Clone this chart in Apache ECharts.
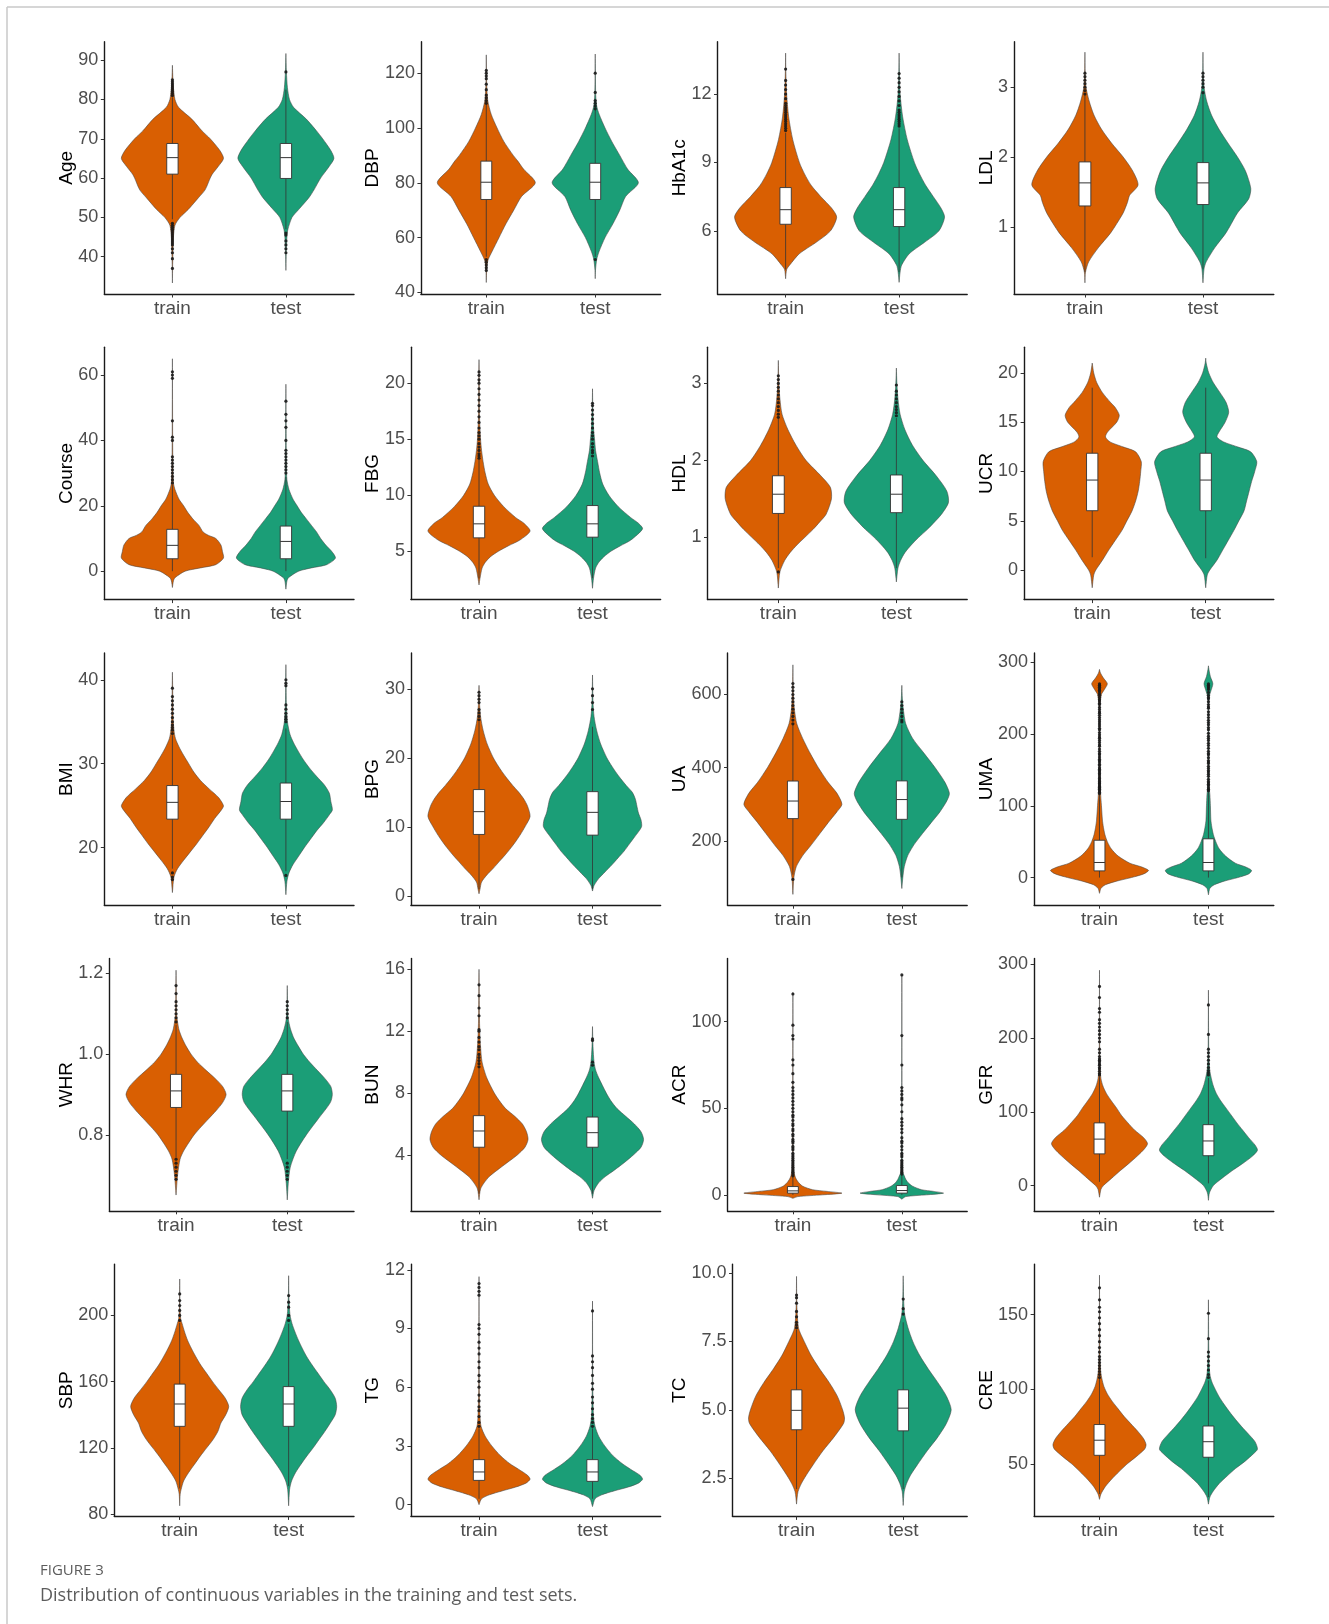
<!DOCTYPE html>
<html>
<head>
<meta charset="utf-8">
<script src="https://cdn.jsdelivr.net/npm/echarts@6/dist/echarts.min.js"></script>
<style>
  html, body { margin: 0; padding: 0; background: #ffffff; }
  #chart { width: 1329px; height: 1624px; }
</style>
</head>
<body>
<div id="chart"></div>
<script>
// ---------------------------------------------------------------------------
// Data: one block per variable.
//   *Ticks   : y-axis tick values
//   *Limits  : y-axis extent
//   *Boxes   : [lower whisker, Q1, median, Q3, upper whisker] for train, test
//   *Train / *Test : violin outline as [value, relative density]
//   *TrainOut / *TestOut : outlying observations
// ---------------------------------------------------------------------------
const groups = ['train', 'test'];

// Age
const ageTicks = [40, 50, 60, 70, 80, 90];
const ageLimits = [30.5, 94.7];
const ageBoxes = [[49.5, 61, 65.2, 68.8, 80.5], [47, 59.9, 65.2, 68.8, 82.5]];
const ageTrain = [[33.3,0],[38,0.005],[42,0.012],[45,0.02],[48,0.05],[50,0.15],[52,0.31],[55,0.51],[57,0.64],[60,0.74],[61,0.78],[63,0.9],[65,1.0],[67,0.93],[70,0.74],[72,0.58],[75,0.38],[78,0.12],[80,0.05],[83,0.02],[85,0.01],[88.7,0]];
const ageTest = [[36.5,0],[40,0.005],[42,0.01],[45,0.02],[47,0.04],[50,0.12],[52,0.25],[55,0.45],[57,0.55],[60,0.68],[63,0.85],[65,0.94],[67,0.88],[70,0.72],[72,0.6],[75,0.4],[78,0.15],[80,0.07],[83,0.03],[87,0.01],[91.7,0]];
const ageTrainOut = [37, 39.5, 41, 42, 43, 43.5, 44, 44.5, 45, 45.5, 46, 46.5, 47, 47.5, 48, 48.5, 81, 81.5, 82, 82.5, 83, 83.5, 84, 84.5, 85];
const ageTestOut = [41, 42, 43, 44, 45.5, 46, 87];

// DBP
const dbpTicks = [40, 60, 80, 100, 120];
const dbpLimits = [39.4, 131.5];
const dbpBoxes = [[53, 73.9, 80.2, 87.9, 108.5], [53, 73.9, 80.2, 87.1, 106.5]];
const dbpTrain = [[43.6,0],[47,0.005],[50,0.015],[52,0.04],[55,0.12],[60,0.26],[65,0.4],[70,0.56],[75,0.72],[80,1.0],[85,0.76],[88,0.64],[90,0.55],[95,0.36],[100,0.22],[105,0.1],[110,0.03],[115,0.01],[120,0.004],[126.7,0]];
const dbpTest = [[45,0],[48,0.005],[52,0.03],[55,0.08],[60,0.2],[65,0.36],[70,0.5],[75,0.62],[80,0.88],[85,0.66],[90,0.5],[95,0.34],[100,0.2],[105,0.08],[108,0.03],[112,0.01],[120,0.003],[127,0]];
const dbpTrainOut = [48, 49, 50, 51, 52, 109, 110, 111, 112, 114, 116, 118, 119, 120, 121];
const dbpTestOut = [52, 107, 108, 109, 110, 113, 120];

// HbA1c
const hba1cTicks = [6, 9, 12];
const hba1cLimits = [3.23, 14.3];
const hba1cBoxes = [[4.3, 6.29, 6.93, 7.9, 10.3], [4.2, 6.19, 6.93, 7.9, 10.5]];
const hba1cTrain = [[3.9,0],[4.3,0.02],[4.5,0.08],[5.0,0.27],[5.5,0.6],[6.0,0.88],[6.6,1.0],[7.0,0.9],[7.5,0.69],[8.0,0.5],[8.5,0.37],[9.0,0.27],[10,0.14],[11,0.06],[12,0.02],[13,0.005],[13.8,0]];
const hba1cTest = [[3.74,0],[4.2,0.02],[4.5,0.05],[5.0,0.2],[5.5,0.5],[6.0,0.78],[6.6,0.89],[7.0,0.82],[7.5,0.67],[8.0,0.52],[8.5,0.4],[9.0,0.3],[10,0.16],[11,0.07],[12,0.02],[13,0.005],[13.8,0]];
const hba1cTrainOut = [10.4, 10.5, 10.6, 10.7, 10.8, 10.9, 11, 11.1, 11.2, 11.3, 11.4, 11.5, 11.6, 11.8, 12, 12.2, 12.4, 12.6, 13.1];
const hba1cTestOut = [10.6, 10.7, 10.8, 10.9, 11, 11.1, 11.2, 11.3, 11.5, 11.7, 11.9, 12.1, 12.3, 12.5, 12.7, 12.9];

// LDL
const ldlTicks = [1, 2, 3];
const ldlLimits = [0.04, 3.65];
const ldlBoxes = [[0.35, 1.3, 1.63, 1.93, 2.88], [0.4, 1.32, 1.63, 1.92, 2.9]];
const ldlTrain = [[0.2,0],[0.35,0.01],[0.5,0.07],[0.7,0.25],[0.9,0.47],[1.0,0.56],[1.2,0.72],[1.35,0.8],[1.45,0.84],[1.6,1.0],[1.8,0.9],[2.0,0.72],[2.2,0.5],[2.4,0.31],[2.6,0.17],[2.8,0.08],[3.0,0.02],[3.2,0.005],[3.5,0]];
const ldlTest = [[0.2,0],[0.4,0.02],[0.5,0.06],[0.7,0.22],[0.9,0.42],[1.0,0.5],[1.2,0.65],[1.4,0.86],[1.55,0.9],[1.8,0.8],[2.0,0.65],[2.2,0.47],[2.4,0.3],[2.6,0.16],[2.8,0.07],[3.0,0.02],[3.2,0.005],[3.5,0]];
const ldlTrainOut = [2.9, 2.95, 3.0, 3.05, 3.1, 3.15, 3.2];
const ldlTestOut = [2.92, 3.0, 3.05, 3.1, 3.15, 3.2];

// Course
const courseTicks = [0, 20, 40, 60];
const courseLimits = [-8.7, 68.5];
const courseBoxes = [[0, 3.8, 7.9, 12.8, 26.5], [0, 3.8, 9.1, 13.8, 28.8]];
const courseTrain = [[-5,0],[-3,0.02],[-2,0.05],[0,0.25],[1,0.55],[2,0.85],[4,1.0],[6,0.98],[8,0.95],[10,0.85],[11,0.7],[12,0.6],[14,0.52],[16,0.4],[18,0.3],[20,0.22],[22,0.13],[25,0.05],[27,0.02],[30,0.01],[40,0.005],[65,0]];
const courseTest = [[-5.5,0],[-3,0.02],[-2,0.05],[0,0.25],[1,0.5],[2,0.8],[4,0.97],[6,0.9],[8,0.78],[10,0.68],[12,0.6],[14,0.5],[16,0.4],[18,0.3],[20,0.22],[22,0.14],[25,0.06],[28,0.02],[32,0.01],[45,0.004],[57.2,0]];
const courseTrainOut = [27, 28, 29, 30, 31, 32, 33, 34, 35, 40, 41, 46, 59, 60, 61];
const courseTestOut = [30, 31, 32, 33, 34, 35, 36, 37, 40, 44, 46, 48, 52];

// FBG
const fbgTicks = [5, 10, 15, 20];
const fbgLimits = [0.69, 23.2];
const fbgBoxes = [[2.6, 6.2, 7.45, 9.02, 13.2], [2.6, 6.26, 7.45, 9.08, 13.3]];
const fbgTrain = [[2.0,0],[2.6,0.02],[3.5,0.06],[4.0,0.12],[4.5,0.22],[5.0,0.38],[5.5,0.58],[6.0,0.8],[6.8,1.0],[7.5,0.88],[8.0,0.72],[9.0,0.48],[10,0.3],[11,0.18],[12,0.12],[13,0.08],[14,0.05],[15,0.03],[17,0.01],[20,0.005],[22.1,0]];
const fbgTest = [[1.7,0],[2.6,0.02],[3.5,0.06],[4.0,0.12],[4.5,0.22],[5.0,0.36],[5.5,0.55],[6.0,0.75],[7.0,0.98],[7.5,0.9],[8.0,0.75],[9.0,0.5],[10,0.32],[11,0.2],[12,0.14],[13,0.1],[14,0.06],[15,0.04],[16,0.02],[18,0.005],[19.5,0]];
const fbgTrainOut = [13.3, 13.5, 13.7, 14, 14.3, 14.6, 15, 15.3, 15.6, 16, 16.5, 17, 17.5, 18, 18.5, 19, 19.5, 20, 20.3, 20.7, 21];
const fbgTestOut = [13.5, 13.8, 14, 14.3, 14.6, 15, 15.3, 15.6, 16, 16.4, 16.8, 17.2, 17.6, 18, 18.2];

// HDL
const hdlTicks = [1, 2, 3];
const hdlLimits = [0.19, 3.47];
const hdlBoxes = [[0.6, 1.31, 1.56, 1.80, 2.54], [0.6, 1.32, 1.56, 1.81, 2.55]];
const hdlTrain = [[0.34,0],[0.55,0.03],[0.7,0.12],[0.8,0.22],[0.9,0.35],[1.0,0.5],[1.1,0.65],[1.2,0.78],[1.3,0.9],[1.5,1.0],[1.65,0.98],[1.8,0.8],[2.0,0.52],[2.2,0.33],[2.4,0.18],[2.6,0.07],[2.8,0.03],[3.0,0.01],[3.3,0]];
const hdlTest = [[0.42,0],[0.6,0.03],[0.7,0.08],[0.8,0.16],[0.9,0.28],[1.0,0.42],[1.1,0.58],[1.2,0.72],[1.3,0.85],[1.45,0.98],[1.6,0.95],[1.8,0.75],[2.0,0.5],[2.2,0.3],[2.4,0.16],[2.6,0.07],[2.8,0.03],[3.0,0.01],[3.2,0]];
const hdlTrainOut = [0.55, 2.56, 2.6, 2.65, 2.7, 2.75, 2.8, 2.85, 2.9, 2.95, 3.0, 3.05, 3.1];
const hdlTestOut = [2.58, 2.62, 2.66, 2.7, 2.75, 2.8, 2.85, 2.9, 2.98];

// UCR
const ucrTicks = [0, 5, 10, 15, 20];
const ucrLimits = [-3.0, 22.6];
const ucrBoxes = [[1.3, 6.02, 9.13, 11.85, 18.5], [1.2, 6.02, 9.13, 11.85, 18.5]];
const ucrTrain = [[-1.8,0],[-0.5,0.03],[0,0.07],[1,0.2],[2,0.32],[3,0.45],[4,0.58],[5,0.68],[6,0.78],[7,0.85],[8,0.9],[9,0.93],[10,0.95],[11,0.96],[12,0.85],[12.5,0.6],[13,0.35],[13.5,0.26],[14,0.3],[15,0.48],[15.7,0.53],[16.5,0.45],[17,0.36],[18,0.2],[19,0.09],[20,0.03],[21,0]];
const ucrTest = [[-1.8,0],[-0.5,0.03],[0,0.08],[1,0.22],[2,0.33],[3,0.44],[4,0.55],[5,0.65],[6,0.75],[7,0.8],[8,0.85],[9,0.9],[10,0.96],[11,1.0],[12,0.88],[12.5,0.62],[13,0.35],[13.5,0.22],[14,0.26],[15,0.38],[16,0.45],[17,0.4],[18,0.28],[19,0.15],[20,0.06],[21,0.01],[21.5,0]];
const ucrTrainOut = [];
const ucrTestOut = [];

// BMI
const bmiTicks = [20, 30, 40];
const bmiLimits = [13.15, 43.2];
const bmiBoxes = [[17.5, 23.4, 25.4, 27.4, 33.4], [17.2, 23.4, 25.5, 27.7, 34.2]];
const bmiTrain = [[14.65,0],[16.5,0.03],[17.5,0.1],[18.5,0.22],[19.5,0.35],[20.5,0.48],[21.5,0.6],[22.5,0.72],[23.5,0.83],[24.5,0.96],[25,1.0],[26,0.9],[27,0.72],[28,0.55],[29,0.42],[30,0.32],[31,0.22],[32,0.13],[33,0.06],[34,0.03],[36,0.01],[39,0.005],[40.9,0]];
const bmiTest = [[14.4,0],[16,0.02],[17,0.06],[18,0.14],[19,0.25],[20,0.36],[21,0.48],[22,0.6],[23,0.74],[24,0.86],[24.5,0.91],[25.5,0.88],[26.5,0.85],[27.5,0.75],[28.5,0.6],[29.5,0.46],[30.5,0.34],[31.5,0.24],[32.5,0.15],[33.5,0.08],[35,0.03],[37,0.01],[40,0.003],[41.8,0]];
const bmiTrainOut = [16.2, 16.5, 17, 33.6, 34, 34.3, 34.6, 35, 35.5, 36, 36.5, 37, 37.5, 38, 39];
const bmiTestOut = [16.7, 35, 35.3, 35.6, 36, 36.5, 37, 39.3, 39.6, 40];

// BPG
const bpgTicks = [0, 10, 20, 30];
const bpgLimits = [-1.35, 35.2];
const bpgBoxes = [[1, 8.9, 12.2, 15.4, 25.2], [1, 8.8, 12.1, 15.1, 24.5]];
const bpgTrain = [[0.3,0],[1,0.02],[2,0.05],[3,0.15],[4,0.28],[5,0.4],[6,0.52],[7,0.63],[8,0.73],[9,0.82],[10,0.9],[11.5,1.0],[13,0.95],[14,0.88],[15,0.78],[16,0.66],[17,0.55],[18,0.45],[19,0.36],[20,0.28],[22,0.16],[24,0.08],[26,0.03],[28,0.01],[30.5,0]];
const bpgTest = [[0.7,0],[1.5,0.03],[2.5,0.12],[3.5,0.25],[4.5,0.38],[5.5,0.5],[6.5,0.62],[7.5,0.72],[8.5,0.82],[10,0.96],[11,0.95],[12,0.9],[13,0.87],[14,0.84],[15,0.78],[16,0.66],[17,0.55],[18,0.45],[19,0.36],[20,0.28],[22,0.16],[24,0.08],[26,0.03],[28,0.01],[32,0]];
const bpgTrainOut = [25.5, 26, 26.5, 27, 28, 28.5, 29, 29.5];
const bpgTestOut = [27, 28, 29, 30];

// UA
const uaTicks = [200, 400, 600];
const uaLimits = [24.5, 713.6];
const uaBoxes = [[108, 261, 309, 363.6, 517], [100, 259, 313, 364, 518]];
const uaTrain = [[54,0],[100,0.02],[130,0.07],[160,0.2],[190,0.38],[220,0.55],[250,0.72],[280,0.9],[300,1.0],[330,0.9],[360,0.72],[400,0.52],[440,0.35],[480,0.2],[520,0.08],[560,0.03],[600,0.01],[640,0.003],[681,0]];
const uaTest = [[70,0],[100,0.02],[130,0.05],[160,0.12],[190,0.25],[220,0.42],[250,0.6],[280,0.78],[310,0.92],[330,0.97],[360,0.88],[400,0.68],[440,0.45],[480,0.22],[520,0.08],[560,0.03],[590,0.01],[625,0]];
const uaTrainOut = [95, 520, 530, 540, 550, 560, 570, 580, 590, 600, 610, 620, 630];
const uaTestOut = [525, 530, 540, 550, 560, 570, 580];

// UMA
const umaTicks = [0, 100, 200, 300];
const umaLimits = [-38.5, 313];
const umaBoxes = [[0, 9.3, 21, 52, 116], [0, 9.3, 21, 54, 120]];
const umaTrain = [[-22,0],[-15,0.03],[-10,0.12],[-5,0.35],[0,0.65],[5,0.9],[10,1.0],[15,0.85],[20,0.62],[30,0.38],[40,0.24],[50,0.16],[60,0.11],[70,0.08],[80,0.06],[100,0.04],[120,0.02],[150,0.01],[200,0.006],[240,0.01],[255,0.04],[262,0.1],[270,0.16],[278,0.08],[285,0.02],[290,0]];
const umaTest = [[-24,0],[-15,0.03],[-10,0.12],[-5,0.32],[0,0.6],[5,0.82],[10,0.88],[15,0.75],[20,0.55],[30,0.35],[40,0.22],[50,0.15],[60,0.1],[70,0.07],[80,0.05],[100,0.04],[115,0.03],[130,0.01],[200,0.005],[250,0.01],[260,0.05],[270,0.09],[280,0.04],[290,0.01],[295,0]];
const umaTrainOut = [117, 119, 121, 123, 124, 126, 127, 129, 131, 132, 134, 136, 138, 140, 143, 145, 147, 149, 151, 153, 156, 158, 161, 163, 165, 168, 171, 173, 176, 179, 183, 185, 188, 191, 194, 196, 199, 202, 206, 208, 211, 214, 217, 220, 223, 226, 229, 231, 234, 237, 241, 243, 246, 248, 251, 254, 256, 259, 261, 263, 265, 267, 268, 270];
const umaTestOut = [121, 123, 125, 128, 130, 132, 134, 137, 141, 144, 147, 149, 152, 155, 159, 161, 163, 167, 171, 173, 176, 180, 184, 187, 191, 194, 197, 201, 206, 209, 213, 216, 219, 223, 227, 231, 236, 238, 241, 245, 249, 251, 254, 258, 262, 264, 266, 268, 270];

// WHR
const whrTicks = [0.8, 1.0, 1.2];
const whrLimits = [0.612, 1.237];
const whrBoxes = [[0.745, 0.868, 0.909, 0.95, 1.073], [0.74, 0.859, 0.909, 0.95, 1.08]];
const whrTrain = [[0.651,0],[0.7,0.03],[0.74,0.08],[0.76,0.15],[0.78,0.25],[0.8,0.36],[0.82,0.5],[0.84,0.65],[0.86,0.8],[0.88,0.93],[0.9,1.0],[0.92,0.93],[0.94,0.78],[0.96,0.6],[0.98,0.43],[1.0,0.3],[1.02,0.2],[1.04,0.12],[1.06,0.06],[1.08,0.03],[1.1,0.01],[1.15,0.005],[1.208,0]];
const whrTest = [[0.639,0],[0.68,0.02],[0.72,0.06],[0.76,0.18],[0.8,0.38],[0.84,0.62],[0.88,0.86],[0.9,0.9],[0.92,0.87],[0.94,0.75],[0.96,0.6],[0.98,0.45],[1.0,0.32],[1.02,0.22],[1.04,0.13],[1.06,0.07],[1.08,0.03],[1.1,0.01],[1.17,0]];
const whrTrainOut = [0.69, 0.7, 0.71, 0.72, 0.73, 0.74, 1.08, 1.09, 1.1, 1.11, 1.12, 1.13, 1.15, 1.17];
const whrTestOut = [0.69, 0.7, 0.71, 0.72, 0.73, 1.09, 1.1, 1.11, 1.12, 1.13];

// BUN
const bunTicks = [4, 8, 12, 16];
const bunLimits = [0.39, 16.7];
const bunBoxes = [[1.5, 4.5, 5.55, 6.54, 9.6], [1.5, 4.5, 5.44, 6.45, 9.4]];
const bunTrain = [[1.1,0],[1.8,0.03],[2.2,0.1],[2.6,0.2],[3.0,0.35],[3.5,0.55],[4.0,0.75],[4.5,0.9],[5.0,0.96],[5.5,0.93],[6.0,0.85],[6.5,0.7],[7.0,0.52],[7.5,0.4],[8.0,0.3],[9.0,0.15],[10,0.06],[11,0.03],[12,0.015],[13,0.008],[15,0.003],[16,0]];
const bunTest = [[1.2,0],[1.7,0.03],[2.2,0.12],[2.6,0.25],[3.0,0.42],[3.5,0.62],[4.0,0.8],[4.5,0.95],[5.0,1.0],[5.5,0.95],[6.0,0.82],[6.5,0.65],[7.0,0.48],[7.5,0.36],[8.0,0.27],[9.0,0.12],[9.5,0.06],[10,0.03],[11,0.01],[12.3,0]];
const bunTrainOut = [9.7, 9.9, 10.1, 10.3, 10.5, 10.8, 11, 11.3, 11.6, 12, 12.1, 13, 13.5, 14.3, 15];
const bunTestOut = [9.8, 10, 11.4, 11.5];

// ACR
const acrTicks = [0, 50, 100];
const acrLimits = [-9.2, 136.5];
const acrBoxes = [[0, 1.0, 2.3, 4.8, 10.5], [0, 1.0, 2.5, 5.4, 11.5]];
const acrTrain = [[-2,0],[-1,0.1],[0,0.6],[1,1.0],[2,0.7],[3,0.4],[5,0.2],[7,0.12],[9,0.07],[11,0.04],[14,0.02],[18,0.01],[25,0.005],[60,0.002],[117,0]];
const acrTest = [[-2.5,0],[-1,0.08],[0,0.5],[1,0.85],[2,0.65],[3,0.4],[5,0.22],[7,0.13],[9,0.08],[11,0.05],[13,0.02],[18,0.01],[30,0.004],[127,0]];
const acrTrainOut = [11, 12, 13, 14, 15, 16, 17, 18, 19, 20, 21, 22, 23, 24, 26, 27, 28, 30, 31, 32, 34, 35, 37, 38, 40, 41, 43, 45, 46, 48, 50, 52, 54, 56, 58, 60, 62, 65, 70, 75, 78, 90, 92, 98, 116];
const acrTestOut = [12, 13, 14, 15, 16, 17, 18, 19, 20, 22, 23, 24, 26, 28, 30, 31, 33, 36, 38, 40, 42, 44, 48, 52, 55, 56, 58, 60, 62, 75, 92, 127];

// GFR
const gfrTicks = [0, 100, 200, 300];
const gfrLimits = [-34.2, 307.9];
const gfrBoxes = [[5, 43, 63, 85, 148], [3, 40.5, 60.5, 82.6, 146]];
const gfrTrain = [[-15.8,0],[-5,0.03],[0,0.08],[10,0.25],[20,0.42],[30,0.6],[40,0.77],[50,0.92],[57,0.98],[65,0.9],[75,0.72],[85,0.58],[95,0.45],[105,0.35],[115,0.24],[125,0.14],[135,0.07],[145,0.03],[160,0.01],[180,0.005],[240,0.002],[292,0]];
const gfrTest = [[-20,0],[-10,0.02],[0,0.1],[10,0.28],[20,0.48],[30,0.7],[40,0.9],[48,1.0],[55,0.95],[65,0.82],[75,0.7],[85,0.58],[95,0.47],[105,0.36],[115,0.25],[125,0.16],[135,0.1],[145,0.06],[155,0.03],[170,0.01],[200,0.004],[265,0]];
const gfrTrainOut = [150, 152, 155, 158, 160, 163, 165, 168, 170, 172, 175, 180, 185, 195, 200, 205, 210, 215, 220, 225, 235, 240, 255, 270];
const gfrTestOut = [150, 153, 156, 160, 165, 170, 175, 180, 185, 205, 245];

// SBP
const sbpTicks = [80, 120, 160, 200];
const sbpLimits = [78.6, 231];
const sbpBoxes = [[95.5, 133, 146.5, 158.5, 195.5], [97, 133, 146.5, 157, 195]];
const sbpTrain = [[85,0],[92,0.01],[95,0.03],[100,0.08],[105,0.18],[110,0.3],[115,0.42],[120,0.55],[125,0.68],[130,0.78],[135,0.84],[140,0.94],[145,1.0],[150,0.93],[155,0.8],[160,0.67],[165,0.55],[170,0.43],[175,0.33],[180,0.24],[185,0.16],[190,0.1],[195,0.05],[198,0.02],[205,0.005],[222,0]];
const sbpTest = [[85,0],[95,0.02],[100,0.06],[105,0.14],[110,0.25],[115,0.37],[120,0.5],[125,0.62],[130,0.74],[135,0.85],[140,0.95],[145,0.98],[150,0.95],[155,0.85],[160,0.72],[165,0.6],[170,0.48],[175,0.37],[180,0.28],[185,0.2],[190,0.13],[195,0.07],[200,0.03],[205,0.015],[212,0.005],[224,0]];
const sbpTrainOut = [197, 200, 203, 206, 209, 213];
const sbpTestOut = [197, 200, 205, 208, 212];

// TG
const tgTicks = [0, 3, 6, 9, 12];
const tgLimits = [-0.6, 12.29];
const tgBoxes = [[0.3, 1.24, 1.67, 2.3, 3.9], [0.3, 1.19, 1.67, 2.3, 3.9]];
const tgTrain = [[0,0],[0.3,0.05],[0.5,0.2],[0.7,0.45],[0.9,0.72],[1.1,0.92],[1.3,1.0],[1.5,0.95],[1.8,0.78],[2.1,0.6],[2.5,0.42],[3.0,0.25],[3.5,0.12],[4.0,0.04],[4.5,0.02],[6,0.005],[11.65,0]];
const tgTest = [[-0.1,0],[0.3,0.05],[0.5,0.18],[0.7,0.42],[0.9,0.7],[1.1,0.9],[1.3,0.98],[1.5,0.93],[1.8,0.75],[2.1,0.58],[2.5,0.4],[3.0,0.24],[3.5,0.12],[4.0,0.05],[4.5,0.02],[6,0.005],[10.4,0]];
const tgTrainOut = [4, 4.2, 4.5, 4.8, 5, 5.3, 5.6, 6, 6.3, 6.6, 7, 7.3, 7.7, 8, 8.3, 8.7, 9, 9.2, 10.7, 10.9, 11.1, 11.3];
const tgTestOut = [4, 4.2, 4.4, 4.6, 4.9, 5.2, 5.5, 5.9, 6.2, 6.6, 7, 7.3, 7.6, 9.9];

// TC
const tcTicks = [2.5, 5.0, 7.5, 10.0];
const tcLimits = [1.1, 10.33];
const tcBoxes = [[2.1, 4.27, 4.98, 5.73, 7.92], [2.1, 4.23, 5.06, 5.73, 8.2]];
const tcTrain = [[1.55,0],[2.0,0.03],[2.3,0.1],[2.6,0.2],[3.0,0.35],[3.5,0.55],[4.0,0.78],[4.5,0.98],[4.7,1.0],[5.0,0.96],[5.5,0.85],[6.0,0.68],[6.5,0.48],[7.0,0.3],[7.5,0.16],[7.8,0.08],[8.0,0.04],[8.5,0.015],[9.0,0.005],[9.88,0]];
const tcTest = [[1.5,0],[2.0,0.02],[2.3,0.07],[2.6,0.15],[3.0,0.3],[3.5,0.5],[4.0,0.72],[4.5,0.9],[5.0,1.0],[5.5,0.9],[6.0,0.72],[6.5,0.52],[7.0,0.34],[7.5,0.2],[8.0,0.1],[8.5,0.03],[9.0,0.01],[9.9,0]];
const tcTrainOut = [8.0, 8.1, 8.2, 8.4, 8.6, 8.9, 9.1, 9.2];
const tcTestOut = [8.5, 8.7, 9.05];

// CRE
const creTicks = [50, 100, 150];
const creLimits = [15, 183.9];
const creBoxes = [[30, 55.9, 66, 76.5, 107.4], [28, 54.6, 65, 75.5, 106]];
const creTrain = [[26.4,0],[30,0.03],[35,0.12],[40,0.25],[45,0.4],[50,0.56],[55,0.75],[60,0.92],[63,0.95],[67,0.9],[72,0.78],[77,0.64],[82,0.5],[87,0.38],[92,0.26],[97,0.16],[102,0.09],[107,0.05],[112,0.025],[120,0.01],[140,0.004],[176.5,0]];
const creTest = [[23.2,0],[28,0.03],[32,0.1],[37,0.22],[42,0.38],[47,0.55],[52,0.75],[57,0.92],[60,1.0],[65,0.95],[70,0.82],[75,0.68],[80,0.55],[85,0.43],[90,0.32],[95,0.22],[100,0.14],[105,0.07],[110,0.03],[120,0.01],[160,0]];
const creTrainOut = [108, 110, 112, 114, 116, 118, 120, 122, 125, 128, 132, 136, 140, 144, 148, 152, 155, 160, 168];
const creTestOut = [108, 110, 113, 116, 119, 122, 125, 134, 151];

// Panel order, row by row (4 per row)
const panels = [
  { name: 'Age',    ticks: ageTicks,    limits: ageLimits,    digits: 0, boxes: ageBoxes,    violins: [ageTrain, ageTest],       outliers: [ageTrainOut, ageTestOut] },
  { name: 'DBP',    ticks: dbpTicks,    limits: dbpLimits,    digits: 0, boxes: dbpBoxes,    violins: [dbpTrain, dbpTest],       outliers: [dbpTrainOut, dbpTestOut] },
  { name: 'HbA1c',  ticks: hba1cTicks,  limits: hba1cLimits,  digits: 0, boxes: hba1cBoxes,  violins: [hba1cTrain, hba1cTest],   outliers: [hba1cTrainOut, hba1cTestOut] },
  { name: 'LDL',    ticks: ldlTicks,    limits: ldlLimits,    digits: 0, boxes: ldlBoxes,    violins: [ldlTrain, ldlTest],       outliers: [ldlTrainOut, ldlTestOut] },
  { name: 'Course', ticks: courseTicks, limits: courseLimits, digits: 0, boxes: courseBoxes, violins: [courseTrain, courseTest], outliers: [courseTrainOut, courseTestOut] },
  { name: 'FBG',    ticks: fbgTicks,    limits: fbgLimits,    digits: 0, boxes: fbgBoxes,    violins: [fbgTrain, fbgTest],       outliers: [fbgTrainOut, fbgTestOut] },
  { name: 'HDL',    ticks: hdlTicks,    limits: hdlLimits,    digits: 0, boxes: hdlBoxes,    violins: [hdlTrain, hdlTest],       outliers: [hdlTrainOut, hdlTestOut] },
  { name: 'UCR',    ticks: ucrTicks,    limits: ucrLimits,    digits: 0, boxes: ucrBoxes,    violins: [ucrTrain, ucrTest],       outliers: [ucrTrainOut, ucrTestOut] },
  { name: 'BMI',    ticks: bmiTicks,    limits: bmiLimits,    digits: 0, boxes: bmiBoxes,    violins: [bmiTrain, bmiTest],       outliers: [bmiTrainOut, bmiTestOut] },
  { name: 'BPG',    ticks: bpgTicks,    limits: bpgLimits,    digits: 0, boxes: bpgBoxes,    violins: [bpgTrain, bpgTest],       outliers: [bpgTrainOut, bpgTestOut] },
  { name: 'UA',     ticks: uaTicks,     limits: uaLimits,     digits: 0, boxes: uaBoxes,     violins: [uaTrain, uaTest],         outliers: [uaTrainOut, uaTestOut] },
  { name: 'UMA',    ticks: umaTicks,    limits: umaLimits,    digits: 0, boxes: umaBoxes,    violins: [umaTrain, umaTest],       outliers: [umaTrainOut, umaTestOut] },
  { name: 'WHR',    ticks: whrTicks,    limits: whrLimits,    digits: 1, boxes: whrBoxes,    violins: [whrTrain, whrTest],       outliers: [whrTrainOut, whrTestOut] },
  { name: 'BUN',    ticks: bunTicks,    limits: bunLimits,    digits: 0, boxes: bunBoxes,    violins: [bunTrain, bunTest],       outliers: [bunTrainOut, bunTestOut] },
  { name: 'ACR',    ticks: acrTicks,    limits: acrLimits,    digits: 0, boxes: acrBoxes,    violins: [acrTrain, acrTest],       outliers: [acrTrainOut, acrTestOut] },
  { name: 'GFR',    ticks: gfrTicks,    limits: gfrLimits,    digits: 0, boxes: gfrBoxes,    violins: [gfrTrain, gfrTest],       outliers: [gfrTrainOut, gfrTestOut] },
  { name: 'SBP',    ticks: sbpTicks,    limits: sbpLimits,    digits: 0, boxes: sbpBoxes,    violins: [sbpTrain, sbpTest],       outliers: [sbpTrainOut, sbpTestOut] },
  { name: 'TG',     ticks: tgTicks,     limits: tgLimits,     digits: 0, boxes: tgBoxes,     violins: [tgTrain, tgTest],         outliers: [tgTrainOut, tgTestOut] },
  { name: 'TC',     ticks: tcTicks,     limits: tcLimits,     digits: 1, boxes: tcBoxes,     violins: [tcTrain, tcTest],         outliers: [tcTrainOut, tcTestOut] },
  { name: 'CRE',    ticks: creTicks,    limits: creLimits,    digits: 0, boxes: creBoxes,    violins: [creTrain, creTest],       outliers: [creTrainOut, creTestOut] }
];

// ---------------------------------------------------------------------------
// Layout and style
// ---------------------------------------------------------------------------
const FILLS = ['#D95F02', '#1B9E77'];
const FONT = '"Liberation Sans", Arial, Helvetica, sans-serif';
const TICK_FONT_SIZE = 18;
const CAT_FONT_SIZE = 19;
const TITLE_FONT_SIZE = 19;
const COL_STEP = 306.6;
const ROW_STEP = 305.6;
const FIRST_RIGHT = 354;
const FIRST_TOP = 41.7;
const FIRST_BOTTOM = 294;
const LABEL_BAND = 84.3;   // distance from column start to the widest tick label
const TITLE_X = 66.5;      // centre of the rotated axis title within a column
const VIOLIN_HALF = 0.45;  // half of the violin width, in category units
const BOX_HALF = 0.05;     // half of the box width, in category units

const measureCtx = document.createElement('canvas').getContext('2d');
measureCtx.font = TICK_FONT_SIZE + 'px ' + FONT;

const chart = echarts.init(document.getElementById('chart'), null, { renderer: 'canvas', width: 1329, height: 1624 });

const grids = [], xAxes = [], yAxes = [], series = [], graphics = [];

panels.forEach((p, i) => {
  const col = i % 4, row = Math.floor(i / 4);
  const fmt = v => Number(v).toFixed(p.digits);
  const labelW = Math.max(...p.ticks.map(t => measureCtx.measureText(fmt(t)).width));
  const left = col * COL_STEP + LABEL_BAND + labelW;
  const right = FIRST_RIGHT + col * COL_STEP;
  const top = FIRST_TOP + row * ROW_STEP;
  const bottom = FIRST_BOTTOM + row * ROW_STEP;

  grids.push({ left: left, top: top, width: right - left, height: bottom - top, containLabel: false });

  xAxes.push({
    gridIndex: i, type: 'value', min: 0.4, max: 2.6,
    axisLine: { show: true, onZero: false, lineStyle: { color: '#1a1a1a', width: 1.4 } },
    axisTick: { show: true, length: 3.5, customValues: [1, 2], lineStyle: { color: '#333', width: 1 } },
    axisLabel: { show: true, customValues: [1, 2], formatter: v => groups[Math.round(v) - 1], color: '#4d4d4d',
                 fontSize: CAT_FONT_SIZE, fontFamily: FONT, margin: 5 },
    splitLine: { show: false }
  });

  yAxes.push({
    gridIndex: i, type: 'value', min: p.limits[0], max: p.limits[1],
    axisLine: { show: true, onZero: false, lineStyle: { color: '#1a1a1a', width: 1.4 } },
    axisTick: { show: true, length: 3.5, customValues: p.ticks, lineStyle: { color: '#333', width: 1 } },
    axisLabel: { show: true, customValues: p.ticks, formatter: fmt, color: '#4d4d4d',
                 fontSize: TICK_FONT_SIZE, fontFamily: FONT, margin: 6 },
    splitLine: { show: false }
  });

  // violins
  series.push({
    type: 'custom', xAxisIndex: i, yAxisIndex: i, silent: true, z: 1,
    data: [[1, p.limits[0]], [2, p.limits[0]]],
    renderItem: (params, api) => {
      const g = params.dataIndex;
      const shape = p.violins[g];
      const cx = g + 1;
      const rightSide = shape.map(([v, w]) => api.coord([cx + w * VIOLIN_HALF, v]));
      const leftSide = shape.slice().reverse().map(([v, w]) => api.coord([cx - w * VIOLIN_HALF, v]));
      return {
        type: 'polygon',
        shape: { points: rightSide.concat(leftSide), smooth: 0.25 },
        style: { fill: FILLS[g], stroke: '#444444', lineWidth: 0.55 }
      };
    }
  });

  // boxplots
  series.push({
    type: 'custom', xAxisIndex: i, yAxisIndex: i, silent: true, z: 2,
    data: [[1, p.limits[0]], [2, p.limits[0]]],
    renderItem: (params, api) => {
      const g = params.dataIndex;
      const [lo, q1, md, q3, hi] = p.boxes[g];
      const cx = g + 1;
      const a = api.coord([cx, lo]), b = api.coord([cx, hi]);
      const tl = api.coord([cx - BOX_HALF, q3]), br = api.coord([cx + BOX_HALF, q1]);
      const ml = api.coord([cx - BOX_HALF, md]), mr = api.coord([cx + BOX_HALF, md]);
      return {
        type: 'group',
        children: [
          { type: 'line', shape: { x1: a[0], y1: a[1], x2: b[0], y2: b[1] }, style: { stroke: '#333', lineWidth: 0.8 } },
          { type: 'rect', shape: { x: tl[0], y: tl[1], width: br[0] - tl[0], height: br[1] - tl[1] },
            style: { fill: '#ffffff', stroke: '#333', lineWidth: 0.9 } },
          { type: 'line', shape: { x1: ml[0], y1: ml[1], x2: mr[0], y2: mr[1] }, style: { stroke: '#333', lineWidth: 1 } }
        ]
      };
    }
  });

  // outlying points
  const pts = [];
  p.outliers.forEach((arr, g) => arr.forEach(v => pts.push([g + 1, v])));
  series.push({
    type: 'scatter', xAxisIndex: i, yAxisIndex: i, silent: true, z: 3,
    symbol: 'circle', symbolSize: 3.2, data: pts,
    itemStyle: { color: '#1a1a1a', opacity: 0.9 }
  });

  // rotated y-axis title
  graphics.push({
    type: 'text', x: col * COL_STEP + TITLE_X, y: (top + bottom) / 2, rotation: Math.PI / 2,
    style: { text: p.name, fontSize: TITLE_FONT_SIZE, fontFamily: FONT, fill: '#000000', align: 'center', verticalAlign: 'middle' }
  });
});

// figure frame and caption
graphics.push(
  { type: 'line', shape: { x1: 7, y1: 7, x2: 1329, y2: 7 }, style: { stroke: '#c9c9c9', lineWidth: 1.5 } },
  { type: 'line', shape: { x1: 7, y1: 7, x2: 7, y2: 1624 }, style: { stroke: '#c9c9c9', lineWidth: 1.5 } },
  { type: 'text', x: 40, y: 1571, style: { text: 'FIGURE 3', fontSize: 15, fontFamily: '"Open Sans", sans-serif', fill: '#5c5c5c', verticalAlign: 'middle' } },
  { type: 'text', x: 40, y: 1596, style: { text: 'Distribution of continuous variables in the training and test sets.', fontSize: 18,
    fontFamily: '"Open Sans", sans-serif', fill: '#5c5c5c', verticalAlign: 'middle' } }
);

chart.setOption({
  animation: false,
  backgroundColor: '#ffffff',
  grid: grids,
  xAxis: xAxes,
  yAxis: yAxes,
  series: series,
  graphic: { elements: graphics }
});
</script>
</body>
</html>
